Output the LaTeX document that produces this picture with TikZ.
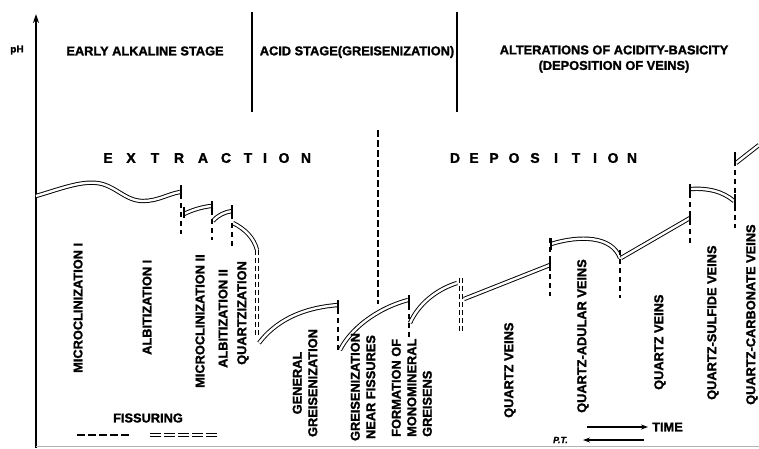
\documentclass[tikz,border=0pt]{standalone}
\usepackage{fontspec}
\setmainfont{Liberation Sans}[UprightFont=* Bold, BoldFont=* Bold, ItalicFont=* Bold Italic, BoldItalicFont=* Bold Italic, UprightFeatures={FakeBold=1.5}, ItalicFeatures={FakeBold=1.5}]
\usetikzlibrary{arrows.meta}
\tikzset{
  dbl/.style={draw, double=white, double distance=2.4pt, line width=0.95pt},
  fis/.style={draw, line width=1.1pt, dash pattern=on 5pt off 4pt},
  fistwo/.style={draw, double=white, double distance=2.2pt, line width=0.9pt, dash pattern=on 5pt off 3pt},
  endbar/.style={draw, line width=1.2pt},
  lab/.style={font=\fontsize{12.8}{15.5}\selectfont, inner sep=0pt},
  vlab/.style={lab, rotate=90, anchor=west, align=left},
  vclab/.style={lab, rotate=90, anchor=center, align=center},
  big/.style={font=\fontsize{14}{16}\selectfont, inner sep=0pt},
}
\begin{document}
\begin{tikzpicture}[x=1pt,y=-1pt]
\useasboundingbox (0,0) rectangle (759,448);
% axis
\coordinate (ax0) at (36,448);
\coordinate (ax1) at (36,14);
\draw[line width=1.3pt,-{Stealth[length=9pt,width=6pt]}] (ax0) -- (ax1);
\coordinate (bl0) at (36,446);
\coordinate (bl1) at (759,446);
\draw[line width=0.5pt, black!30] (bl0) -- (bl1);
\node[lab, font=\fontsize{10}{12}\selectfont] (ph) at (17,50) {pH};
% stage separators
\coordinate (s1a) at (252,12); \coordinate (s1b) at (252,112);
\coordinate (s2a) at (457,12); \coordinate (s2b) at (457,112);
\draw[line width=1.3pt] (s1a) -- (s1b);
\draw[line width=1.3pt] (s2a) -- (s2b);
\node[lab] (st1) at (145,51) {EARLY ALKALINE STAGE};
\node[lab] (st2) at (357,52) {ACID STAGE(GREISENIZATION)};
\node[lab, align=center] (st3) at (614,59) {ALTERATIONS OF ACIDITY-BASICITY\\(DEPOSITION OF VEINS)};
% extraction / deposition
\foreach \l/\x in {E/108,X/131,T/155,R/179,A/203,C/226,T/248,I/265,O/284,N/306}
  \node[big] at (\x,158) {\l};
\foreach \l/\x in {D/455,E/474,P/494,O/514,S/535,I/556,T/576,I/595,O/613,N/632}
  \node[big] at (\x,158) {\l};
% extraction / deposition boundary
\coordinate (bd0) at (378,130); \coordinate (bd1) at (378,304);
\draw[line width=1.2pt, dash pattern=on 7pt off 3pt] (bd0) -- (bd1);
% curves
\draw[dbl] (36,196) .. controls (60,189) and (80,181) .. (97,183)
  .. controls (115,185) and (125,201) .. (143,201)
  .. controls (158,201) and (168,194) .. (180,192);
\draw[dbl] (184,214) .. controls (192,210) and (202,207) .. (211,206);
\draw[dbl] (213,221) .. controls (218,215) and (225,212) .. (232,211);
\draw[dbl] (233,223) .. controls (245,229) and (254,238) .. (257,250);
\draw[fistwo] (257,250) -- (257,336);
\draw[dbl] (259,343) .. controls (275,322) and (300,308) .. (338,305);
\draw[dbl] (340,350) .. controls (350,330) and (375,309) .. (408,300);
\draw[dbl] (410,323) .. controls (418,305) and (435,290) .. (457,283);
\draw[fistwo] (461,278) -- (461,332);
\draw[dbl] (464,299) -- (550,265);
\draw[dbl] (551,244) .. controls (580,235) and (612,236) .. (620,258);
\draw[dbl] (621,258) -- (690,218);
\draw[dbl] (691,189) .. controls (708,188) and (722,191) .. (734,201);
\draw[dbl] (736,163) -- (759,145);
% fissuring ticks
\foreach \x/\a/\b in {181/185/234, 212/201/240, 232/205/246, 338/300/353, 409/296/340, 550/238/296, 620/250/298, 690/184/243, 735/152/228}
  \draw[fis] (\x,\a) -- (\x,\b);
\foreach \x/\a/\b in {181/185/197, 184/207/218, 212/201/211, 232/205/216, 338/300/312, 409/295/305, 550/259/271, 551/238/250, 690/184/195, 690/212/224, 735/152/166, 735/194/206}
  \draw[endbar] (\x,\a) -- (\x,\b);
% vertical labels
\node[vlab] (l1) at (78,373) {MICROCLINIZATION I};
\node[vlab] (l2) at (147,355) {ALBITIZATION I};
\node[vlab] (l3) at (200,388) {MICROCLINIZATION II};
\node[vlab] (l4) at (223,368) {ALBITIZATION II};
\node[vlab] (l5) at (243,365) {QUARTZIZATION};
\node[vclab] (l6) at (305,383) {GENERAL\\GREISENIZATION};
\node[vclab] (l7) at (363,387) {GREISENIZATION\\NEAR FISSURES};
\node[vlab, anchor=south west] (l8) at (432,437) {FORMATION OF\\MONOMINERAL\\GREISENS};
\node[vlab] (l9) at (510,418) {QUARTZ VEINS};
\node[vlab] (l10) at (583,413) {QUARTZ-ADULAR VEINS};
\node[vlab] (l11) at (660,390) {QUARTZ VEINS};
\node[vlab] (l12) at (713,400) {QUARTZ-SULFIDE VEINS};
\node[vlab] (l13) at (752,405) {QUARTZ-CARBONATE VEINS};
% legend
\node[lab] (fiss) at (148,418) {FISSURING};
\coordinate (f1a) at (77,435); \coordinate (f1b) at (131,435);
\coordinate (f2a) at (150,435); \coordinate (f2b) at (218.5,435);
\draw[fis, dash pattern=on 8pt off 3pt] (f1a) -- (f1b);
\draw[fistwo, dash pattern=on 11pt off 3pt] (f2a) -- (f2b);
% time arrows
\node[lab, anchor=west] (time) at (652,427) {TIME};
\node[font=\itshape\fontsize{9}{11}\selectfont, inner sep=0pt, anchor=east] (pt) at (568,440) {P.T.};
\coordinate (ta) at (587,427); \coordinate (tb) at (648,427);
\coordinate (pa) at (644,440); \coordinate (pb) at (583,440);
\draw[line width=1.1pt,-{Stealth[length=7pt,width=5pt]}] (ta) -- (tb);
\draw[line width=1.1pt,-{Stealth[length=7pt,width=5pt]}] (pa) -- (pb);
\end{tikzpicture}
\end{document}
